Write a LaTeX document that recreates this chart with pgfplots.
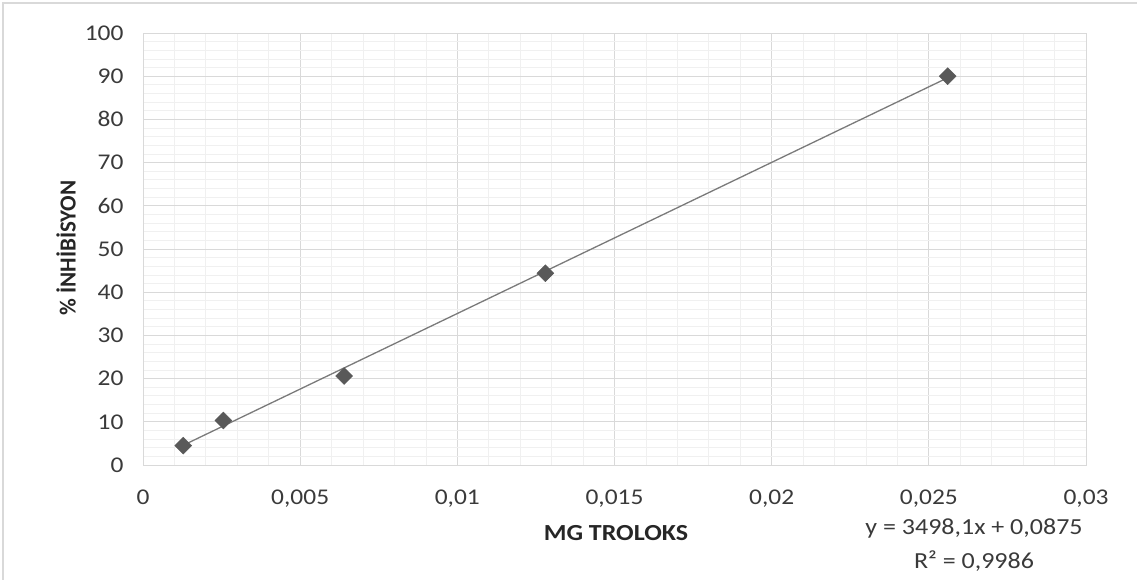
\documentclass[border=0pt]{standalone}
\usepackage{pgfplots}
\pgfplotsset{compat=1.18}
\usepackage{fontspec}
\setmainfont{Carlito}[FakeStretch=1.13]
\newfontfamily\rotfont{Carlito}
\definecolor{txt}{HTML}{3A3A3A}
\definecolor{lbl}{HTML}{262626}
\definecolor{majg}{HTML}{D9D9D9}
\definecolor{ming}{HTML}{F0F0F0}
\definecolor{mk}{HTML}{595959}
\definecolor{ln}{HTML}{7A7A7A}
\begin{document}
\begin{tikzpicture}[x=1pt,y=1pt]
\path[use as bounding box] (0,0) rectangle (1137,580);
\draw[color=majg, line width=1.5pt] (3,0) -- (3,577) -- (1137,577);
\begin{axis}[
  at={(143pt,115pt)}, anchor=south west,
  width=943pt, height=432pt, scale only axis,
  xmin=0, xmax=0.03, ymin=0, ymax=100,
  xtick={0,0.005,0.01,0.015,0.02,0.025,0.03},
  xticklabels={0,{0,005},{0,01},{0,015},{0,02},{0,025},{0,03}},
  ytick={0,10,...,100},
  minor x tick num=4, minor y tick num=4,
  grid=both,
  major grid style={color=majg, line width=0.8pt},
  minor grid style={color=ming, line width=0.8pt},
  major tick length=0pt, minor tick length=0pt,
  axis line style={color=majg, line width=0.8pt},
  /pgf/number format/assume math mode=true,
  ticklabel style={font=\fontsize{22.5}{26}\selectfont, color=txt},
  xticklabel style={yshift=-21pt},
  yticklabel style={xshift=-16pt},
  scaled x ticks=false,
]
\addplot[color=ln, line width=1.3pt, no marks] coordinates {(0.00128,4.565) (0.0256,89.638)};
\addplot[only marks, mark=square*, mark size=6pt, mark options={rotate=45, fill=mk, draw=mk}] coordinates {
(0.00128,4.5) (0.00256,10.3) (0.0064,20.6) (0.0128,44.4) (0.0256,90.0)};
\end{axis}
\node[font=\rotfont\bfseries\fontsize{23}{26}\selectfont, color=lbl, rotate=90] at (66,332) {\% İNHİBİSYON};
\node[font=\bfseries\fontsize{23}{26}\selectfont, color=lbl] at (616,47) {MG TROLOKS};
\node[font=\fontsize{23}{26}\selectfont, color=txt] at (974,51) {y = 3498,1x + 0,0875};
\node[font=\fontsize{23}{26}\selectfont, color=txt] at (974,19) {R² = 0,9986};
\end{tikzpicture}
\end{document}
